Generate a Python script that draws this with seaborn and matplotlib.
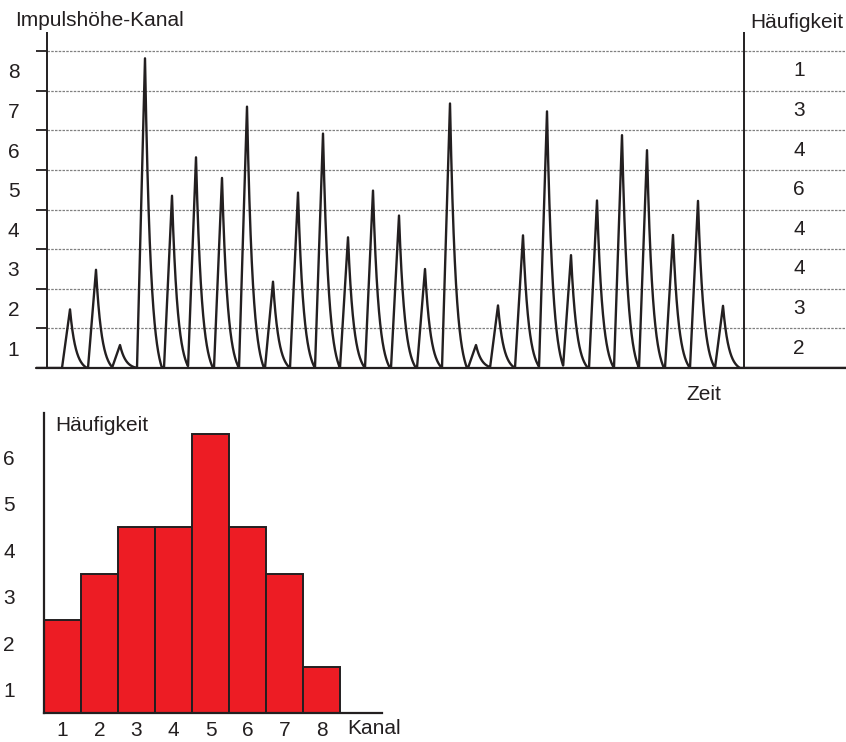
import numpy as np
import pandas as pd
import matplotlib
matplotlib.use("Agg")
import matplotlib.pyplot as plt
import seaborn as sns

# --- DATA ---
# top: pulse train (time position, pulse height in channel units)
peak_time = [70, 96, 120, 145, 172, 196, 222, 247, 273, 298, 323, 348, 373, 399,
             425, 450, 476, 498, 523, 547, 571, 597, 622, 647, 673, 698, 723]
peak_height = [1.48, 2.48, 0.58, 7.82, 4.35, 5.32, 4.80, 6.60, 2.18, 4.43, 5.92, 3.30, 4.48, 3.85,
               2.50, 6.68, 0.58, 1.58, 3.35, 6.48, 2.85, 4.23, 5.88, 5.50, 3.36, 4.22, 1.57]
channels = [1, 2, 3, 4, 5, 6, 7, 8]
counts = [2, 3, 4, 4, 6, 4, 3, 1]          # Häufigkeit per Kanal

INK = "#231F20"
RED = "#ED1C24"
W, H = 846, 742

sns.set_theme(style="white")
plt.rcParams["font.family"] = ["Liberation Sans", "DejaVu Sans"]
FS = 15


def rect(l, t, r, b):
    # pixel box -> figure fraction
    return [l / W, 1 - b / H, (r - l) / W, (b - t) / H]


def pulse(t, t0, h, rise=8.0, fall=17.0, tau=5.8):
    # linear rise, truncated exponential decay
    d = t - t0
    y = np.zeros_like(t)
    up = (d >= -rise) & (d <= 0)
    y[up] = h * (1 + d[up] / rise)
    dn = (d > 0) & (d <= fall)
    k = np.exp(-fall / tau)
    y[dn] = h * (np.exp(-d[dn] / tau) - k) / (1 - k)
    return y


fig = plt.figure(figsize=(W / 100, H / 100), dpi=100)

# --- TOP: pulse heights over time ---
ax = fig.add_axes(rect(36, 32, 846, 368))
t = np.arange(36, 846, 0.1)
sig = np.zeros_like(t)
for t0, h in zip(peak_time, peak_height):
    sig = np.maximum(sig, pulse(t, t0, h))
df = pd.DataFrame({"t": t, "h": sig})
sns.lineplot(data=df, x="t", y="h", ax=ax, color=INK, lw=1.7, estimator=None, sort=False)

ax.set_xlim(36, 846)
ax.set_ylim(0, 336 / 39.6)
for s in ax.spines.values():
    s.set_visible(False)
ax.set_xlabel("")
ax.set_ylabel("")
ax.set_xticks([])
levels = np.arange(1, 9)
ax.hlines(levels, 47, 846, colors="#808080", linestyles=(0, (2, 1)), lw=0.9, zorder=0)
ax.hlines(levels, 36, 47, colors=INK, lw=1.3)
ax.axhline(0, color=INK, lw=1.6, clip_on=False)
ax.axvline(47, color=INK, lw=1.4)
ax.axvline(744, color=INK, lw=1.4)
ax.set_yticks(levels - 0.5)
ax.set_yticklabels([str(c) for c in channels], fontsize=FS, color=INK)
ax.tick_params(axis="y", length=0, pad=12)
for c, n in zip(channels, counts):
    ax.text(799, c - 0.5, str(n), ha="center", va="center", fontsize=FS, color=INK)

fig.text(15 / W, 1 - 21 / H, "Impulshöhe-Kanal", fontsize=FS, color=INK, va="center", ha="left")
fig.text(750 / W, 1 - 22 / H, "Häufigkeit", fontsize=FS, color=INK, va="center", ha="left")
fig.text(704 / W, 1 - 394 / H, "Zeit", fontsize=FS, color=INK, va="center", ha="center")

# --- BOTTOM: histogram ---
bx = fig.add_axes(rect(44, 413, 382, 713))
sns.barplot(x=channels, y=counts, ax=bx, native_scale=True, width=1, color=RED,
            saturation=1, edgecolor=INK, linewidth=1.4, errorbar=None)
bx.set_xlim(0.5, 0.5 + 338 / 37.0)
bx.set_ylim(0, 300 / 46.5)
bx.set_xlabel("")
bx.set_ylabel("")
bx.spines["top"].set_visible(False)
bx.spines["right"].set_visible(False)
for s in ("left", "bottom"):
    bx.spines[s].set_color(INK)
    bx.spines[s].set_linewidth(1.6)
bx.set_xticks(channels)
bx.set_xticklabels([str(c) for c in channels], fontsize=FS, color=INK)
bx.set_yticks(np.arange(1, 7) - 0.5)
bx.set_yticklabels([str(v) for v in range(1, 7)], fontsize=FS, color=INK)
bx.tick_params(axis="x", length=0, pad=6)
bx.tick_params(axis="y", length=0, pad=21)

fig.text(55 / W, 1 - 425 / H, "Häufigkeit", fontsize=FS, color=INK, va="center", ha="left")
fig.text(347 / W, 1 - 729 / H, "Kanal", fontsize=FS, color=INK, va="center", ha="left")

fig.savefig("out.png", dpi=100, facecolor="white")
